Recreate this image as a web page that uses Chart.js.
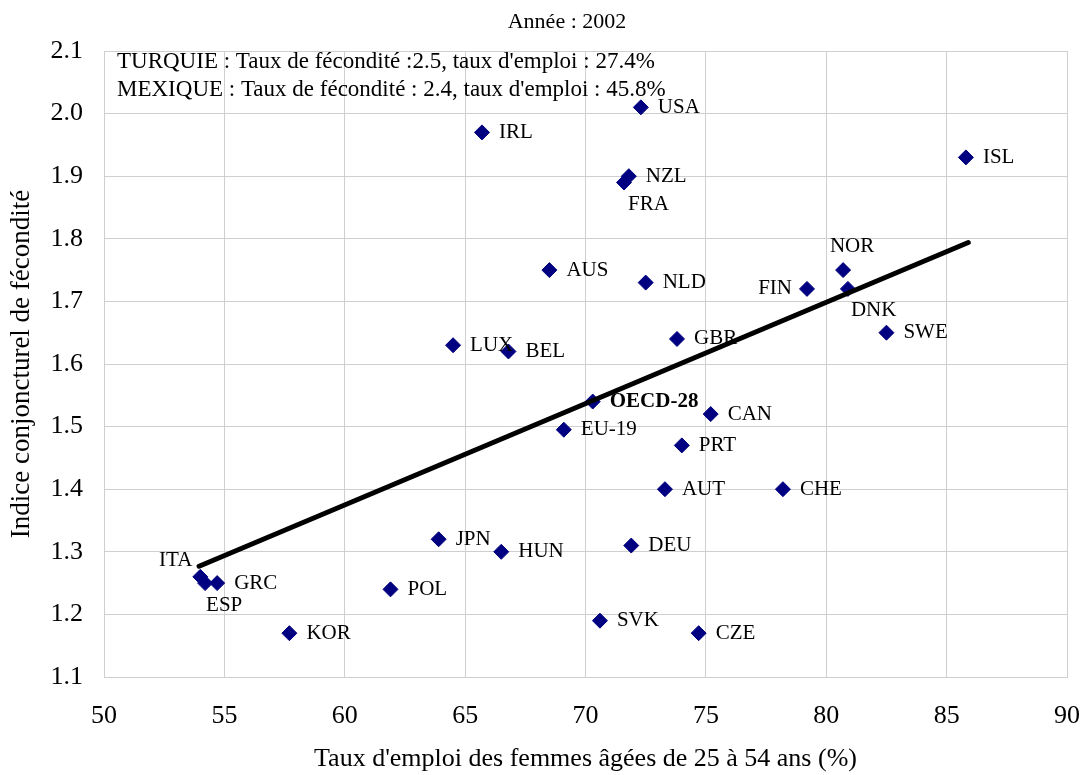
<!DOCTYPE html>
<html lang="fr">
<head>
<meta charset="utf-8">
<title>Fécondité et emploi des femmes, 2002</title>
<script src="https://cdn.jsdelivr.net/npm/chart.js@4.4.1/dist/chart.umd.min.js"></script>
<style>
    html, body { margin: 0; padding: 0; background: #ffffff; }
    #cadre { width: 1085px; height: 775px; position: relative; }
</style>
</head>
<body>
<div id="cadre"><canvas id="graphique" width="1085" height="775"></canvas></div>
<script>
// Données (année 2002)
const pays = ['USA', 'IRL', 'ISL', 'NZL', 'FRA', 'NOR', 'AUS', 'NLD', 'FIN', 'DNK',
    'SWE', 'GBR', 'LUX', 'BEL', 'OECD-28', 'CAN', 'EU-19', 'PRT', 'AUT', 'CHE',
    'JPN', 'DEU', 'HUN', 'ITA', 'ESP', 'GRC', 'POL', 'SVK', 'KOR', 'CZE'];
const tauxEmploi = [72.3, 65.7, 85.8, 71.8, 71.6, 80.7, 68.5, 72.5, 79.2, 80.9,
    82.5, 73.8, 64.5, 66.8, 70.3, 75.2, 69.1, 74.0, 73.3, 78.2,
    63.9, 71.9, 66.5, 54.0, 54.2, 54.7, 61.9, 70.6, 57.7, 74.7];
const fecondite = [2.01, 1.97, 1.93, 1.90, 1.89, 1.75, 1.75, 1.73, 1.72, 1.72,
    1.65, 1.64, 1.63, 1.62, 1.54, 1.52, 1.495, 1.47, 1.40, 1.40,
    1.32, 1.31, 1.30, 1.26, 1.25, 1.25, 1.24, 1.19, 1.17, 1.17];

// droite de tendance (extrémités)
const tendanceX = [53.95, 85.9];
const tendanceY = [1.277, 1.794];

const graduationsX = [50, 55, 60, 65, 70, 75, 80, 85, 90];
const graduationsY = [1.1, 1.2, 1.3, 1.4, 1.5, 1.6, 1.7, 1.8, 1.9, 2.0, 2.1];

const titreGraphique = 'Année : 2002';
const notes = [
    'TURQUIE : Taux de fécondité :2.5, taux d\'emploi : 27.4%',
    'MEXIQUE : Taux de fécondité : 2.4, taux d\'emploi : 45.8%'
];

// placement des étiquettes (par défaut à droite du point)
const placementEtiquettes = {
    'FRA': 'dessous',
    'ITA': 'gauche-haut',
    'ESP': 'dessous',
    'FIN': 'gauche',
    'NOR': 'dessus',
    'DNK': 'dessous'
};

const police = "'Liberation Serif', 'Times New Roman', serif";
const bleuMarine = '#000080';
const couleurGrille = '#cfcfcf';

const etiquettesPlugin = {
    id: 'etiquettesPays',
    afterDatasetsDraw(chart) {
        const ctx = chart.ctx;
        const meta = chart.getDatasetMeta(0);
        ctx.save();
        ctx.fillStyle = '#000000';
        ctx.textBaseline = 'middle';
        meta.data.forEach((point, i) => {
            const nom = pays[i];
            const place = placementEtiquettes[nom] || 'droite';
            ctx.font = (nom === 'OECD-28' ? 'bold ' : '') + '21px ' + police;
            let x = point.x + 17;
            let y = point.y;
            ctx.textAlign = 'left';
            if (place === 'dessous') {
                x = point.x + (nom === 'FRA' ? 4 : (nom === 'DNK' ? 3 : 1));
                y = point.y + 22;
            } else if (place === 'gauche') {
                ctx.textAlign = 'right';
                x = point.x - 15;
            } else if (place === 'gauche-haut') {
                ctx.textAlign = 'right';
                x = point.x - 8;
                y = point.y - 16;
            } else if (place === 'dessus') {
                ctx.textAlign = 'center';
                x = point.x + 9;
                y = point.y - 24;
            }
            ctx.fillText(nom, x, y);
        });
        ctx.restore();
    }
};

const textesPlugin = {
    id: 'textesFixes',
    afterDraw(chart) {
        const ctx = chart.ctx;
        const zone = chart.chartArea;
        ctx.save();
        ctx.fillStyle = '#000000';
        ctx.textBaseline = 'middle';
        ctx.font = '22px ' + police;
        ctx.textAlign = 'center';
        ctx.fillText(titreGraphique, 567, 22);
        ctx.font = '23px ' + police;
        ctx.textAlign = 'left';
        notes.forEach((ligne, i) => {
            ctx.fillText(ligne, zone.left + 13, zone.top + 11 + i * 28);
        });
        ctx.restore();
    }
};

const ctx = document.getElementById('graphique').getContext('2d');
new Chart(ctx, {
    type: 'scatter',
    data: {
        datasets: [{
            label: 'Pays',
            data: pays.map((p, i) => ({ x: tauxEmploi[i], y: fecondite[i] })),
            pointStyle: 'rectRot',
            pointRadius: 7.5,
            pointBackgroundColor: bleuMarine,
            pointBorderColor: bleuMarine,
            pointBorderWidth: 1,
            order: 2
        }, {
            type: 'line',
            label: 'Tendance',
            data: tendanceX.map((x, i) => ({ x: x, y: tendanceY[i] })),
            borderColor: '#000000',
            borderWidth: 5,
            borderCapStyle: 'round',
            pointRadius: 0,
            fill: false,
            order: 1
        }]
    },
    options: {
        responsive: false,
        animation: false,
        layout: { padding: { top: 51, right: 18, left: 0, bottom: 0 } },
        plugins: {
            legend: { display: false },
            tooltip: { enabled: false },
            title: { display: false }
        },
        scales: {
            x: {
                type: 'linear',
                min: 50,
                max: 90,
                afterBuildTicks: axe => { axe.ticks = graduationsX.map(v => ({ value: v })); },
                afterFit: axe => {
                    axe.height = 98;
                    axe.paddingLeft = 0;
                    axe.paddingRight = 0;
                },
                grid: { color: couleurGrille, drawTicks: false },
                border: { color: couleurGrille },
                ticks: {
                    padding: 24,
                    color: '#000000',
                    font: { family: police, size: 26 },
                    callback: v => String(v)
                },
                title: {
                    display: true,
                    text: 'Taux d\'emploi des femmes âgées de 25 à 54 ans (%)',
                    color: '#000000',
                    font: { family: police, size: 26 },
                    padding: { top: 0, bottom: 0 }
                }
            },
            y: {
                type: 'linear',
                min: 1.1,
                max: 2.1,
                afterBuildTicks: axe => { axe.ticks = graduationsY.map(v => ({ value: v })); },
                afterFit: axe => { axe.width = 104; },
                grid: { color: couleurGrille, drawTicks: false },
                border: { color: couleurGrille },
                ticks: {
                    padding: 21,
                    color: '#000000',
                    font: { family: police, size: 26 },
                    callback: v => Number(v).toFixed(1)
                },
                title: {
                    display: true,
                    text: 'Indice conjoncturel de fécondité',
                    color: '#000000',
                    font: { family: police, size: 27 },
                    padding: { top: 6, bottom: 0 }
                }
            }
        }
    },
    plugins: [etiquettesPlugin, textesPlugin]
});
</script>
</body>
</html>
